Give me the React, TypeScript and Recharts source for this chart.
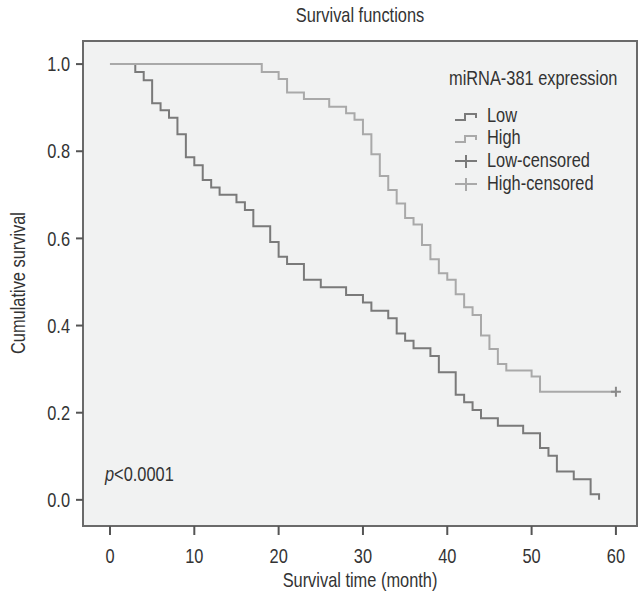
import React from "react";
import {
  ComposedChart,
  Line,
  Scatter,
  XAxis,
  YAxis,
  ReferenceArea,
} from "recharts";

// Kaplan-Meier steps (month, cumulative survival)
const lowTimes = [0, 3, 4, 5, 6, 7, 8, 9, 10, 11, 12, 13, 15, 16, 17, 19, 20, 21, 23, 25, 28, 30, 31, 33, 34, 35, 36, 38, 39, 41, 42, 43, 44, 46, 49, 51, 52, 53, 55, 57, 58];
const lowSurvival = [1, 0.982, 0.963, 0.91, 0.894, 0.877, 0.839, 0.786, 0.768, 0.734, 0.717, 0.7, 0.683, 0.665, 0.628, 0.592, 0.558, 0.541, 0.505, 0.488, 0.47, 0.453, 0.434, 0.417, 0.382, 0.365, 0.348, 0.33, 0.293, 0.241, 0.224, 0.206, 0.187, 0.17, 0.153, 0.119, 0.101, 0.065, 0.047, 0.013, 0];

const highTimes = [0, 18, 20, 21, 23, 26, 28, 29, 30, 31, 32, 33, 34, 35, 36, 37, 38, 39, 40, 41, 42, 43, 44, 45, 46, 47, 50, 51, 60];
const highSurvival = [1, 0.982, 0.966, 0.935, 0.92, 0.902, 0.887, 0.872, 0.839, 0.793, 0.743, 0.711, 0.68, 0.647, 0.632, 0.585, 0.552, 0.52, 0.505, 0.472, 0.442, 0.424, 0.377, 0.346, 0.312, 0.297, 0.283, 0.248, 0.248];

const highCensorTimes = [60];
const highCensorSurvival = [0.248];

const xTicks = [0, 10, 20, 30, 40, 50, 60];
const yTicks = [0, 0.2, 0.4, 0.6, 0.8, 1.0];

const X_DOMAIN: [number, number] = [-3.2, 62.5];
const Y_DOMAIN: [number, number] = [-0.06, 1.053];

const LOW_COLOR = "#7a7a7a";
const HIGH_COLOR = "#a9a9a9";
const TEXT = "#333";
const FONT = "'Liberation Sans', Arial, sans-serif";
const SQUEEZE = 0.82; // no condensed face installed, so squeeze Liberation Sans

const toPoints = (t: number[], s: number[]) => t.map((v, i) => ({ t: v, s: s[i] }));

const lowData = toPoints(lowTimes, lowSurvival);
const highData = toPoints(highTimes, highSurvival);
const highCensor = toPoints(highCensorTimes, highCensorSurvival);

// narrow text: translate to the anchor, then squeeze horizontally
const NText = ({ x, y, anchor = "start", rotate = 0, dy, children }: any) => (
  <g transform={`translate(${x},${y}) rotate(${rotate}) scale(${SQUEEZE},1)`}>
    <text x={0} y={0} dy={dy} textAnchor={anchor} fill={TEXT} fontSize={20} fontFamily={FONT}>
      {children}
    </text>
  </g>
);

const XTick = (props: any) => (
  <NText x={props.x} y={props.y} anchor="middle" dy="0.71em">
    {props.payload.value}
  </NText>
);

const YTick = (props: any) => (
  <NText x={props.x} y={props.y} anchor="end" dy="0.355em">
    {Number(props.payload.value).toFixed(1)}
  </NText>
);

const Cross = (props: any) => {
  const { cx, cy } = props;
  return (
    <path
      d={`M${cx - 5},${cy}h10M${cx},${cy - 5}v10`}
      stroke="#8a8a8a"
      strokeWidth={2}
      fill="none"
    />
  );
};

const App = () => {
  return (
    <div
      style={{
        position: "absolute",
        left: 0,
        top: 0,
        width: 640,
        height: 596,
        background: "#fff",
        fontFamily: FONT,
      }}
    >
      <ComposedChart
        width={640}
        height={596}
        margin={{ top: 41, right: 3, bottom: 0, left: 0 }}
      >
        <ReferenceArea
          x1={X_DOMAIN[0]}
          x2={X_DOMAIN[1]}
          y1={Y_DOMAIN[0]}
          y2={Y_DOMAIN[1]}
          fill="#f1f2f2"
          fillOpacity={1}
          stroke="#6a6a6a"
          strokeWidth={2}
          ifOverflow="visible"
        />
        <XAxis
          type="number"
          dataKey="t"
          domain={X_DOMAIN}
          ticks={xTicks}
          allowDataOverflow
          height={70}
          axisLine={false}
          tickSize={9}
          tickMargin={14}
          tickLine={{ stroke: "#555", strokeWidth: 2 }}
          tick={<XTick />}
        />
        <YAxis
          type="number"
          dataKey="s"
          domain={Y_DOMAIN}
          ticks={yTicks}
          allowDataOverflow
          width={83}
          axisLine={false}
          tickSize={7}
          tickMargin={6}
          tickLine={{ stroke: "#555", strokeWidth: 2 }}
          tick={<YTick />}
        />
        <Line
          data={lowData}
          dataKey="s"
          type="stepAfter"
          stroke={LOW_COLOR}
          strokeWidth={2}
          dot={false}
          activeDot={false}
          isAnimationActive={false}
        />
        <Line
          data={highData}
          dataKey="s"
          type="stepAfter"
          stroke={HIGH_COLOR}
          strokeWidth={2}
          dot={false}
          activeDot={false}
          isAnimationActive={false}
        />
        <Scatter
          data={highCensor}
          dataKey="s"
          shape={Cross}
          isAnimationActive={false}
        />
      </ComposedChart>

      {/* titles, legend and p-value */}
      <svg
        width={640}
        height={596}
        style={{ position: "absolute", left: 0, top: 0, pointerEvents: "none" }}
      >
        <NText x={360} y={22} anchor="middle">Survival functions</NText>
        <NText x={360} y={587} anchor="middle">Survival time (month)</NText>
        <NText x={25} y={283} anchor="middle" rotate={-90}>Cumulative survival</NText>
        <NText x={105} y={481}>
          <tspan fontStyle="italic">p</tspan>&lt;0.0001
        </NText>
        <NText x={449} y={85}>miRNA-381 expression</NText>
        <NText x={487} y={122}>Low</NText>
        <NText x={487} y={144}>High</NText>
        <NText x={487} y={167}>Low-censored</NText>
        <NText x={487} y={190}>High-censored</NText>
        <g fill="none" strokeWidth={2}>
          <path d="M455,120H465V114H476V118" stroke={LOW_COLOR} />
          <path d="M455,142H465V136H476V140" stroke={HIGH_COLOR} />
          <path d="M455,161H477M466,155V168" stroke={LOW_COLOR} />
          <path d="M455,184H477M466,178V191" stroke={HIGH_COLOR} />
        </g>
      </svg>
    </div>
  );
};

export default App;
